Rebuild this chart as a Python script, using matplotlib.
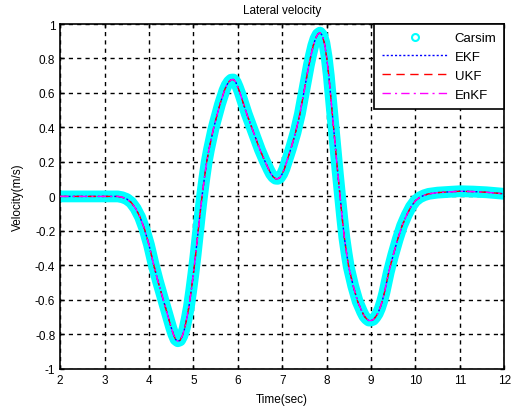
import matplotlib
matplotlib.use("Agg")
import matplotlib.pyplot as plt
from matplotlib.lines import Line2D

t = [2.0, 2.5, 3.0, 3.3, 3.4, 3.5, 3.6, 3.7, 3.8, 3.9, 4.0, 4.1, 4.2, 4.3,
     4.4, 4.5, 4.55, 4.6, 4.65, 4.7, 4.75, 4.8, 4.85, 4.9, 4.95, 5.0, 5.05,
     5.1, 5.15, 5.2, 5.25, 5.3, 5.35, 5.4, 5.45, 5.5, 5.6, 5.7, 5.75, 5.8, 5.85,
     5.9, 5.95, 6.0, 6.05, 6.1, 6.2, 6.3, 6.4, 6.5, 6.6, 6.7, 6.75, 6.8,
     6.85, 6.9, 6.95, 7.0, 7.05, 7.1, 7.15, 7.2, 7.3, 7.4, 7.5, 7.6, 7.65,
     7.7, 7.75, 7.8, 7.85, 7.9, 7.95, 8.0, 8.05, 8.1, 8.15, 8.2, 8.25, 8.3,
     8.35, 8.4, 8.45, 8.5, 8.6, 8.7, 8.8, 8.85, 8.9, 8.95, 9.0, 9.05, 9.1,
     9.15, 9.2, 9.25, 9.3, 9.35, 9.4, 9.5, 9.6, 9.7, 9.8, 9.9, 10.0, 10.1,
     10.2, 10.3, 10.5, 10.8, 11.0, 11.3, 11.6, 12.0]
carsim = [0.0, 0.0, 0.0, 0.0, -0.005, -0.015, -0.035, -0.07, -0.12, -0.19,
          -0.28, -0.39, -0.49, -0.58, -0.67, -0.76, -0.80, -0.83, -0.84, -0.835,
          -0.81, -0.77, -0.71, -0.64, -0.55, -0.45, -0.34, -0.22, -0.10, 0.01,
          0.11, 0.20, 0.27, 0.33, 0.39, 0.44, 0.535, 0.615, 0.645, 0.665, 0.677,
          0.678, 0.665, 0.635, 0.60, 0.56, 0.48, 0.41, 0.34, 0.27, 0.21, 0.155,
          0.13, 0.113, 0.103, 0.102, 0.11, 0.13, 0.16, 0.20, 0.24, 0.28, 0.37,
          0.48, 0.62, 0.76, 0.82, 0.875, 0.915, 0.94, 0.95, 0.935, 0.89, 0.81,
          0.70, 0.56, 0.42, 0.28, 0.14, 0.01, -0.12, -0.24, -0.33, -0.41, -0.52,
          -0.61, -0.67, -0.695, -0.71, -0.72, -0.72, -0.715, -0.70, -0.68, -0.65,
          -0.61, -0.56, -0.50, -0.44, -0.34, -0.25, -0.17, -0.11, -0.06, -0.025,
          -0.005, 0.007, 0.015, 0.022, 0.027, 0.03, 0.028, 0.024, 0.015]
ekf = list(carsim)
ukf = list(carsim)
enkf = list(carsim)

xticks = [2, 3, 4, 5, 6, 7, 8, 9, 10, 11, 12]
yticks = [-1, -0.8, -0.6, -0.4, -0.2, 0, 0.2, 0.4, 0.6, 0.8, 1]
ytick_labels = ["-1", "-0.8", "-0.6", "-0.4", "-0.2", "0", "0.2", "0.4", "0.6", "0.8", "1"]

plt.rcParams['font.family'] = ['Liberation Sans', 'DejaVu Sans']
fig = plt.figure(figsize=(5.14, 4.10), dpi=100)
ax = fig.add_axes([0.117, 0.098, 0.864, 0.841])

ax.plot(t, carsim, color='cyan', lw=8.5, solid_capstyle='round', solid_joinstyle='round', zorder=2)
ax.plot(t, ekf, color='blue', lw=1, ls=(0, (1.5, 1.5)), zorder=3)
ax.plot(t, ukf, color='red', lw=1, ls=(0, (6, 4)), zorder=4)
ax.plot(t, enkf, color='magenta', lw=1, ls=(0, (6, 3, 1.5, 3)), zorder=5)

ax.set_xlim(2, 12)
ax.set_ylim(-1, 1)
ax.set_xticks(xticks)
ax.set_xticklabels([str(x) for x in xticks])
ax.set_yticks(yticks)
ax.set_yticklabels(ytick_labels)
ax.tick_params(direction='in', top=True, right=True, labelsize=8.5, length=3, width=1)
ax.grid(True, color='black', ls=(0, (3, 3)), lw=1)
for s in ax.spines.values():
    s.set_linewidth(1.2)

ax.set_title('Lateral velocity', fontsize=8.5, pad=8)
ax.set_xlabel('Time(sec)', fontsize=8.5, labelpad=5)
ax.set_ylabel('Velocity(m/s)', fontsize=8.5, labelpad=8)

handles = [
    Line2D([], [], color='cyan', marker='o', ls='none', mfc='none', mew=1.5, ms=5),
    Line2D([], [], color='blue', lw=1, ls=(0, (1.5, 1.5))),
    Line2D([], [], color='red', lw=1, ls=(0, (6, 4))),
    Line2D([], [], color='magenta', lw=1, ls=(0, (6, 3, 1.5, 3))),
]
leg = ax.legend(handles, ['Carsim', 'EKF', 'UKF', 'EnKF'], loc='upper right',
                fontsize=9.5, fancybox=False, framealpha=1, edgecolor='black',
                borderaxespad=0, handlelength=5.0, handletextpad=0.5,
                labelspacing=0.5, borderpad=0.6)
leg.get_frame().set_linewidth(1.2)

fig.savefig('out.png', dpi=100)
